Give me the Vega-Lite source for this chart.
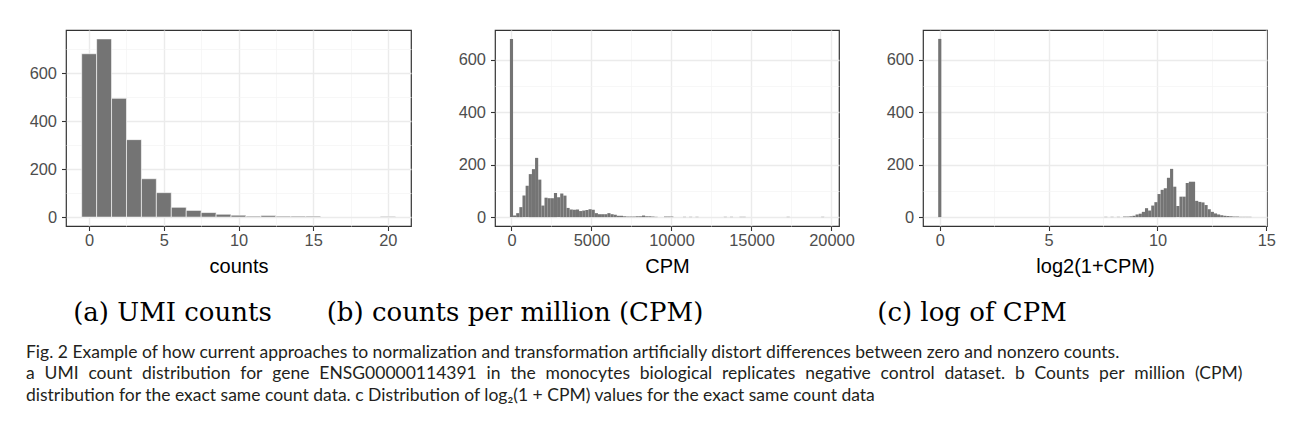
{
  "$schema": "https://vega.github.io/schema/vega-lite/v6.json",
  "background": "white",
  "padding": {"left": 26, "top": 29, "right": 5, "bottom": 5},
  "bounds": "flush",
  "spacing": 84,
  "title": {
    "text": [
      "Fig. 2 Example of how current approaches to normalization and transformation artificially distort differences between zero and nonzero counts.",
      "a\u2002\u200aUMI\u2002\u200acount\u2002\u200adistribution\u2002\u200afor\u2002\u200agene\u2002\u200aENSG00000114391\u2002\u200ain\u2002\u200athe\u2002\u200amonocytes\u2002\u200abiological\u2002\u200areplicates\u2002\u200anegative\u2002\u200acontrol\u2002\u200adataset.\u2002\u200ab\u2002\u200aCounts\u2002\u200aper\u2002\u200amillion\u2002\u200a(CPM)",
      "distribution for the exact same count data. c Distribution of log₂(1 + CPM) values for the exact same count data"
    ],
    "orient": "bottom",
    "anchor": "start",
    "frame": "group",
    "font": "Lato",
    "fontSize": 17.5,
    "fontWeight": "normal",
    "color": "#231F20",
    "lineHeight": 21.5,
    "offset": 16.5,
    "dx": -40
  },
  "config": {
    "view": {"stroke": "#333333", "strokeWidth": 1.2},
    "axis": {
      "domain": false,
      "grid": true,
      "tickColor": "#333333",
      "tickWidth": 1.1,
      "tickSize": 4.5,
      "labelFont": "Liberation Sans",
      "labelFontSize": 16.4,
      "labelColor": "#4D4D4D",
      "labelOverlap": false,
      "labelFlush": false,
      "titleFont": "Liberation Sans",
      "titleFontSize": 20,
      "titleFontWeight": "normal",
      "titleColor": "#000000",
      "titlePadding": 7.5
    },
    "axisX": {"labelPadding": 2},
    "axisY": {"labelPadding": 5},
    "title": {
      "font": "DejaVu Serif",
      "fontSize": 26,
      "fontWeight": "normal",
      "color": "#000000"
    }
  },
  "hconcat": [
    {
      "width": 345,
      "height": 196,
      "title": {"text": "(a) UMI counts", "orient": "bottom", "anchor": "middle", "frame": "group", "dx": -66, "offset": 24},
      "data": {"values": [
        {"bin_start": -0.5, "bin_end": 0.5, "count": 681},
        {"bin_start": 0.5, "bin_end": 1.5, "count": 743},
        {"bin_start": 1.5, "bin_end": 2.5, "count": 495},
        {"bin_start": 2.5, "bin_end": 3.5, "count": 323},
        {"bin_start": 3.5, "bin_end": 4.5, "count": 160},
        {"bin_start": 4.5, "bin_end": 5.5, "count": 102},
        {"bin_start": 5.5, "bin_end": 6.5, "count": 41},
        {"bin_start": 6.5, "bin_end": 7.5, "count": 28},
        {"bin_start": 7.5, "bin_end": 8.5, "count": 19},
        {"bin_start": 8.5, "bin_end": 9.5, "count": 12},
        {"bin_start": 9.5, "bin_end": 10.5, "count": 8},
        {"bin_start": 10.5, "bin_end": 11.5, "count": 4},
        {"bin_start": 11.5, "bin_end": 12.5, "count": 7},
        {"bin_start": 12.5, "bin_end": 13.5, "count": 4},
        {"bin_start": 13.5, "bin_end": 14.5, "count": 4},
        {"bin_start": 14.5, "bin_end": 15.5, "count": 4},
        {"bin_start": 19.5, "bin_end": 20.5, "count": 3}
      ]},
      "mark": {"type": "rect", "color": "#747474", "stroke": "white", "strokeWidth": 0.6},
      "encoding": {
        "x": {
          "field": "bin_start", "type": "quantitative",
          "scale": {"domain": [-1.55, 21.55], "nice": false, "zero": false},
          "axis": {
            "title": "counts",
            "values": [0, 2.5, 5, 7.5, 10, 12.5, 15, 17.5, 20],
            "labelExpr": "datum.value % 5 === 0 ? datum.label : ''",
            "gridColor": {"condition": {"test": "datum.value % 5 === 0", "value": "#EBEBEB"}, "value": "#F3F3F3"},
            "gridWidth": {"condition": {"test": "datum.value % 5 === 0", "value": 1.4}, "value": 0.7},
            "tickOpacity": {"condition": {"test": "datum.value % 5 === 0", "value": 1}, "value": 0}
          }
        },
        "x2": {"field": "bin_end"},
        "y": {
          "field": "count", "type": "quantitative",
          "scale": {"domain": [-37, 780], "nice": false, "zero": false},
          "axis": {
            "title": null,
            "values": [0, 100, 200, 300, 400, 500, 600, 700],
            "labelExpr": "datum.value % 200 === 0 ? datum.label : ''",
            "gridColor": {"condition": {"test": "datum.value % 200 === 0", "value": "#EBEBEB"}, "value": "#F3F3F3"},
            "gridWidth": {"condition": {"test": "datum.value % 200 === 0", "value": 1.4}, "value": 0.7},
            "tickOpacity": {"condition": {"test": "datum.value % 200 === 0", "value": 1}, "value": 0}
          }
        },
        "y2": {"datum": 0}
      }
    },
    {
      "width": 344,
      "height": 196,
      "title": {"text": "(b) counts per million (CPM)", "orient": "bottom", "anchor": "middle", "frame": "group", "dx": -152, "offset": 24},
      "data": {"values": [
        {"bin_start": -98.25, "bin_end": 98.25, "count": 680},
        {"bin_start": 98.25, "bin_end": 294.75, "count": 6},
        {"bin_start": 294.75, "bin_end": 491.25, "count": 15},
        {"bin_start": 491.25, "bin_end": 687.75, "count": 38},
        {"bin_start": 687.75, "bin_end": 884.25, "count": 82},
        {"bin_start": 884.25, "bin_end": 1080.75, "count": 120},
        {"bin_start": 1080.75, "bin_end": 1277.25, "count": 164},
        {"bin_start": 1277.25, "bin_end": 1473.75, "count": 183},
        {"bin_start": 1473.75, "bin_end": 1670.25, "count": 226},
        {"bin_start": 1670.25, "bin_end": 1866.75, "count": 143},
        {"bin_start": 1866.75, "bin_end": 2063.25, "count": 44},
        {"bin_start": 2063.25, "bin_end": 2259.75, "count": 74},
        {"bin_start": 2259.75, "bin_end": 2456.25, "count": 72},
        {"bin_start": 2456.25, "bin_end": 2652.75, "count": 72},
        {"bin_start": 2652.75, "bin_end": 2849.25, "count": 92},
        {"bin_start": 2849.25, "bin_end": 3045.75, "count": 76},
        {"bin_start": 3045.75, "bin_end": 3242.25, "count": 90},
        {"bin_start": 3242.25, "bin_end": 3438.75, "count": 82},
        {"bin_start": 3438.75, "bin_end": 3635.25, "count": 35},
        {"bin_start": 3635.25, "bin_end": 3831.75, "count": 29},
        {"bin_start": 3831.75, "bin_end": 4028.25, "count": 28},
        {"bin_start": 4028.25, "bin_end": 4224.75, "count": 29},
        {"bin_start": 4224.75, "bin_end": 4421.25, "count": 23},
        {"bin_start": 4421.25, "bin_end": 4617.75, "count": 25},
        {"bin_start": 4617.75, "bin_end": 4814.25, "count": 27},
        {"bin_start": 4814.25, "bin_end": 5010.75, "count": 30},
        {"bin_start": 5010.75, "bin_end": 5207.25, "count": 28},
        {"bin_start": 5207.25, "bin_end": 5403.75, "count": 15},
        {"bin_start": 5403.75, "bin_end": 5600.25, "count": 11},
        {"bin_start": 5600.25, "bin_end": 5796.75, "count": 11},
        {"bin_start": 5796.75, "bin_end": 5993.25, "count": 11},
        {"bin_start": 5993.25, "bin_end": 6189.75, "count": 15},
        {"bin_start": 6189.75, "bin_end": 6386.25, "count": 11},
        {"bin_start": 6386.25, "bin_end": 6582.75, "count": 9},
        {"bin_start": 6582.75, "bin_end": 6779.25, "count": 5},
        {"bin_start": 6779.25, "bin_end": 6975.75, "count": 5},
        {"bin_start": 6975.75, "bin_end": 7172.25, "count": 3},
        {"bin_start": 7172.25, "bin_end": 7368.75, "count": 2},
        {"bin_start": 7368.75, "bin_end": 7565.25, "count": 2},
        {"bin_start": 7565.25, "bin_end": 7761.75, "count": 2},
        {"bin_start": 7761.75, "bin_end": 7958.25, "count": 3},
        {"bin_start": 7958.25, "bin_end": 8154.75, "count": 3},
        {"bin_start": 8154.75, "bin_end": 8351.25, "count": 6},
        {"bin_start": 8351.25, "bin_end": 8547.75, "count": 3},
        {"bin_start": 8547.75, "bin_end": 8744.25, "count": 3},
        {"bin_start": 8744.25, "bin_end": 8940.75, "count": 2},
        {"bin_start": 8940.75, "bin_end": 9137.25, "count": 1},
        {"bin_start": 9530.25, "bin_end": 9726.75, "count": 2},
        {"bin_start": 9726.75, "bin_end": 9923.25, "count": 2},
        {"bin_start": 9923.25, "bin_end": 10119.75, "count": 2},
        {"bin_start": 10709.25, "bin_end": 10905.75, "count": 1},
        {"bin_start": 11102.25, "bin_end": 11298.75, "count": 1},
        {"bin_start": 11495.25, "bin_end": 11691.75, "count": 1},
        {"bin_start": 13263.75, "bin_end": 13460.25, "count": 1},
        {"bin_start": 13656.75, "bin_end": 13853.25, "count": 1},
        {"bin_start": 14246.25, "bin_end": 14442.75, "count": 1},
        {"bin_start": 14442.75, "bin_end": 14639.25, "count": 1},
        {"bin_start": 17193.75, "bin_end": 17390.25, "count": 1},
        {"bin_start": 19355.25, "bin_end": 19551.75, "count": 1}
      ]},
      "mark": {"type": "rect", "color": "#747474"},
      "encoding": {
        "x": {
          "field": "bin_start", "type": "quantitative",
          "scale": {"domain": [-1030, 20470], "nice": false, "zero": false},
          "axis": {
            "title": "CPM",
            "format": "d",
            "values": [0, 2500, 5000, 7500, 10000, 12500, 15000, 17500, 20000],
            "labelExpr": "datum.value % 5000 === 0 ? datum.label : ''",
            "gridColor": {"condition": {"test": "datum.value % 5000 === 0", "value": "#EBEBEB"}, "value": "#F3F3F3"},
            "gridWidth": {"condition": {"test": "datum.value % 5000 === 0", "value": 1.4}, "value": 0.7},
            "tickOpacity": {"condition": {"test": "datum.value % 5000 === 0", "value": 1}, "value": 0}
          }
        },
        "x2": {"field": "bin_end"},
        "y": {
          "field": "count", "type": "quantitative",
          "scale": {"domain": [-34, 714], "nice": false, "zero": false},
          "axis": {
            "title": null,
            "values": [0, 100, 200, 300, 400, 500, 600],
            "labelExpr": "datum.value % 200 === 0 ? datum.label : ''",
            "gridColor": {"condition": {"test": "datum.value % 200 === 0", "value": "#EBEBEB"}, "value": "#F3F3F3"},
            "gridWidth": {"condition": {"test": "datum.value % 200 === 0", "value": 1.4}, "value": 0.7},
            "tickOpacity": {"condition": {"test": "datum.value % 200 === 0", "value": 1}, "value": 0}
          }
        },
        "y2": {"datum": 0}
      }
    },
    {
      "width": 344,
      "height": 196,
      "title": {"text": "(c) log of CPM", "orient": "bottom", "anchor": "middle", "frame": "group", "dx": -123, "offset": 24},
      "data": {"values": [
        {"bin_start": -0.072, "bin_end": 0.072, "count": 680},
        {"bin_start": 7.555, "bin_end": 7.699, "count": 1},
        {"bin_start": 7.842, "bin_end": 7.986, "count": 1},
        {"bin_start": 8.130, "bin_end": 8.274, "count": 1},
        {"bin_start": 8.418, "bin_end": 8.562, "count": 2},
        {"bin_start": 8.562, "bin_end": 8.706, "count": 2},
        {"bin_start": 8.706, "bin_end": 8.849, "count": 3},
        {"bin_start": 8.849, "bin_end": 8.993, "count": 5},
        {"bin_start": 8.993, "bin_end": 9.137, "count": 10},
        {"bin_start": 9.137, "bin_end": 9.281, "count": 13},
        {"bin_start": 9.281, "bin_end": 9.425, "count": 20},
        {"bin_start": 9.425, "bin_end": 9.569, "count": 34},
        {"bin_start": 9.569, "bin_end": 9.713, "count": 25},
        {"bin_start": 9.713, "bin_end": 9.857, "count": 44},
        {"bin_start": 9.857, "bin_end": 10.001, "count": 57},
        {"bin_start": 10.001, "bin_end": 10.145, "count": 88},
        {"bin_start": 10.145, "bin_end": 10.289, "count": 104},
        {"bin_start": 10.289, "bin_end": 10.433, "count": 110},
        {"bin_start": 10.433, "bin_end": 10.577, "count": 150},
        {"bin_start": 10.577, "bin_end": 10.721, "count": 184},
        {"bin_start": 10.721, "bin_end": 10.865, "count": 116},
        {"bin_start": 10.865, "bin_end": 11.009, "count": 42},
        {"bin_start": 11.009, "bin_end": 11.152, "count": 78},
        {"bin_start": 11.152, "bin_end": 11.296, "count": 78},
        {"bin_start": 11.296, "bin_end": 11.440, "count": 130},
        {"bin_start": 11.440, "bin_end": 11.584, "count": 135},
        {"bin_start": 11.584, "bin_end": 11.728, "count": 135},
        {"bin_start": 11.728, "bin_end": 11.872, "count": 62},
        {"bin_start": 11.872, "bin_end": 12.016, "count": 58},
        {"bin_start": 12.016, "bin_end": 12.160, "count": 56},
        {"bin_start": 12.160, "bin_end": 12.304, "count": 46},
        {"bin_start": 12.304, "bin_end": 12.448, "count": 30},
        {"bin_start": 12.448, "bin_end": 12.592, "count": 20},
        {"bin_start": 12.592, "bin_end": 12.736, "count": 14},
        {"bin_start": 12.736, "bin_end": 12.880, "count": 10},
        {"bin_start": 12.880, "bin_end": 13.023, "count": 7},
        {"bin_start": 13.023, "bin_end": 13.167, "count": 5},
        {"bin_start": 13.167, "bin_end": 13.311, "count": 4},
        {"bin_start": 13.311, "bin_end": 13.455, "count": 3},
        {"bin_start": 13.455, "bin_end": 13.599, "count": 2},
        {"bin_start": 13.599, "bin_end": 13.743, "count": 2},
        {"bin_start": 13.743, "bin_end": 13.887, "count": 1},
        {"bin_start": 13.887, "bin_end": 14.031, "count": 1},
        {"bin_start": 14.031, "bin_end": 14.175, "count": 1},
        {"bin_start": 14.175, "bin_end": 14.319, "count": 1}
      ]},
      "mark": {"type": "rect", "color": "#747474"},
      "encoding": {
        "x": {
          "field": "bin_start", "type": "quantitative",
          "scale": {"domain": [-0.77, 15.03], "nice": false, "zero": false},
          "axis": {
            "title": "log2(1+CPM)",
            "values": [0, 2.5, 5, 7.5, 10, 12.5, 15],
            "labelExpr": "datum.value % 5 === 0 ? datum.label : ''",
            "gridColor": {"condition": {"test": "datum.value % 5 === 0", "value": "#EBEBEB"}, "value": "#F3F3F3"},
            "gridWidth": {"condition": {"test": "datum.value % 5 === 0", "value": 1.4}, "value": 0.7},
            "tickOpacity": {"condition": {"test": "datum.value % 5 === 0", "value": 1}, "value": 0}
          }
        },
        "x2": {"field": "bin_end"},
        "y": {
          "field": "count", "type": "quantitative",
          "scale": {"domain": [-34, 714], "nice": false, "zero": false},
          "axis": {
            "title": null,
            "values": [0, 100, 200, 300, 400, 500, 600],
            "labelExpr": "datum.value % 200 === 0 ? datum.label : ''",
            "gridColor": {"condition": {"test": "datum.value % 200 === 0", "value": "#EBEBEB"}, "value": "#F3F3F3"},
            "gridWidth": {"condition": {"test": "datum.value % 200 === 0", "value": 1.4}, "value": 0.7},
            "tickOpacity": {"condition": {"test": "datum.value % 200 === 0", "value": 1}, "value": 0}
          }
        },
        "y2": {"datum": 0}
      }
    }
  ]
}
